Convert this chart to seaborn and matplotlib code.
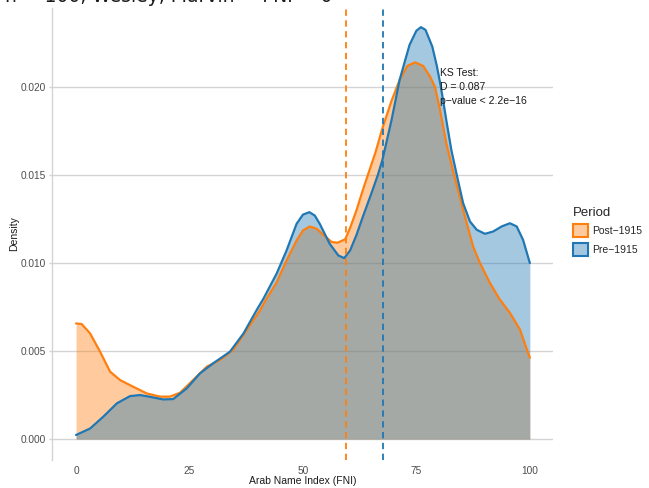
import pandas as pd
import matplotlib.pyplot as plt
import matplotlib.colors as mcolors
import seaborn as sns
from matplotlib.patches import Patch

# density curves (x = Arab Name Index, y = density * 1000)
PRE_X = [0, 3.1, 6.0, 9.0, 11.9, 14.1, 16.3, 19.2, 21.4, 24.4, 27.3, 30.2, 33.9, 36.9,
         39.8, 41.3, 44.2, 46.4, 48.6, 50, 51.4, 52.6, 53.7, 55.9, 57.8, 59.1, 60.4, 61.8,
         63.2, 65, 66.5, 67.5, 69.5, 71.3, 72.5, 73.5, 75, 76, 77, 78.5, 79.5, 80.4, 81.6,
         82.7, 83.9, 85.3, 86.8, 88.3, 90.1, 91.9, 93.8, 95.6, 97.1, 98.5, 100]
PRE_Y = [0.23, 0.6, 1.27, 2.03, 2.44, 2.5, 2.4, 2.25, 2.27, 2.88, 3.73, 4.3, 4.96, 6.0,
         7.33, 7.98, 9.4, 10.72, 12.23, 12.75, 12.89, 12.7, 12.23, 11.09, 10.43, 10.28, 10.72,
         11.6, 12.63, 13.9, 15.0, 15.85, 18.1, 20.4, 21.5, 22.4, 23.2, 23.4, 23.25, 22.3,
         21.2, 20.0, 18.1, 16.42, 15.0, 13.4, 12.36, 11.89, 11.66, 11.79, 12.08, 12.26,
         12.08, 11.32, 10.0]

POST_X = [0, 1.25, 3.1, 5.3, 7.5, 9.7, 12.6, 15.6, 18.5, 20.7, 22.9, 25.8, 28.8, 31.7,
          34.6, 37.6, 40.5, 42.0, 44.2, 46.4, 48.6, 50, 51.5, 53, 54.5, 56.3, 57.6, 59.3,
          60.4, 61.8, 63.2, 64.3, 66, 67.5, 69.5, 71.3, 73, 74.7, 76.5, 78, 79.1, 80.2,
          81.6, 83.3, 85.3, 87.5, 89.0, 91.2, 93.4, 95.6, 97.8, 100]
POST_Y = [6.57, 6.53, 6.0, 4.96, 3.83, 3.35, 2.97, 2.59, 2.41, 2.41, 2.63, 3.35, 4.11,
          4.49, 5.06, 6.19, 7.3, 7.98, 8.9, 10.15, 11.28, 11.85, 12.08, 11.95, 11.6, 11.2,
          11.15, 11.35, 12.0, 13.0, 14.15, 15.0, 16.3, 17.65, 19.2, 20.4, 21.2, 21.4, 21.2,
          20.6, 20.0, 18.7, 16.8, 15.0, 13.02, 10.94, 10.0, 8.87, 7.92, 7.17, 6.23, 4.62]

PERIODS = ["Post\u22121915", "Pre\u22121915"]
MEANS = {"Post\u22121915": 59.5, "Pre\u22121915": 67.7}
COLORS = {"Post\u22121915": "#ff7f0e", "Pre\u22121915": "#1f77b4"}

X_TICKS = [0, 25, 50, 75, 100]
Y_TICKS = [0.000, 0.005, 0.010, 0.015, 0.020]

KS_TEXT = "KS Test:\nD = 0.087\np\u2212value < 2.2e\u221216"
TITLE_TEXT = "n = 100, Wesley, Marvin ~ FNI ~ 0"

df = pd.concat([
    pd.DataFrame({"fni": POST_X, "density": [v / 1000 for v in POST_Y], "Period": PERIODS[0]}),
    pd.DataFrame({"fni": PRE_X, "density": [v / 1000 for v in PRE_Y], "Period": PERIODS[1]}),
], ignore_index=True)

sns.set_theme(style="white")
plt.rcParams["font.family"] = ["Liberation Sans", "DejaVu Sans"]

fig = plt.figure(figsize=(6.49, 4.88), dpi=100)
ax = fig.add_axes([52 / 649, 1 - 460 / 488, (553 - 52) / 649, (460 - 8) / 488])

for period in PERIODS:
    sub = df[df["Period"] == period]
    ax.fill_between(sub["fni"], 0, sub["density"], color=COLORS[period], alpha=0.4,
                    linewidth=0, zorder=2)
    sns.lineplot(data=sub, x="fni", y="density", color=COLORS[period], linewidth=1.6,
                 ax=ax, legend=False, zorder=3)

for period in PERIODS:
    ax.axvline(MEANS[period], color=COLORS[period], linestyle=(0, (3.5, 2.5)),
               linewidth=1.3, zorder=4)

ax.text(80.2, 0.0211, KS_TEXT, ha="left", va="top", fontsize=7.5, color="#1a1a1a",
        linespacing=1.55, zorder=5)

ax.set_xlim(-5.3, 105.1)
ax.set_ylim(-0.00119, 0.02449)
ax.set_xticks(X_TICKS)
ax.set_yticks(Y_TICKS)
ax.set_yticklabels([f"{t:.3f}" for t in Y_TICKS])
ax.grid(axis="y", color="#d4d4d4", linewidth=1.0, zorder=0)
ax.grid(axis="x", visible=False)
ax.set_axisbelow(True)

for side in ["top", "right", "bottom"]:
    ax.spines[side].set_visible(False)
ax.spines["left"].set_color("#d4d4d4")
ax.spines["left"].set_linewidth(1.0)

ax.tick_params(axis="y", length=2.5, width=1.0, color="#d4d4d4", pad=2,
               labelsize=7.3, labelcolor="#4d4d4d", left=True)
ax.tick_params(axis="x", length=0, pad=4, labelsize=7.3, labelcolor="#4d4d4d")
ax.set_xlabel("Arab Name Index (FNI)", fontsize=7.5, color="#1a1a1a", labelpad=0.5)
ax.set_ylabel("Density", fontsize=7.5, color="#1a1a1a", labelpad=1)

handles = [Patch(facecolor=(*mcolors.to_rgb(COLORS[p]), 0.4), edgecolor=COLORS[p],
                 linewidth=1.5, label=p) for p in PERIODS]
leg = fig.legend(handles=handles, title="Period", loc="upper left",
                 bbox_to_anchor=(568 / 649, 1 - 202 / 488), frameon=False,
                 fontsize=7.5, title_fontsize=9.5, handlelength=1.4, handleheight=1.55,
                 handletextpad=0.4, labelspacing=0.5, borderpad=0, alignment="left")

fig.text(5 / 649, 1 - 2 / 488, TITLE_TEXT, ha="left", va="baseline", fontsize=13.5,
         family="DejaVu Sans", color="#1a1a1a")

fig.savefig("out.png", dpi=100)
